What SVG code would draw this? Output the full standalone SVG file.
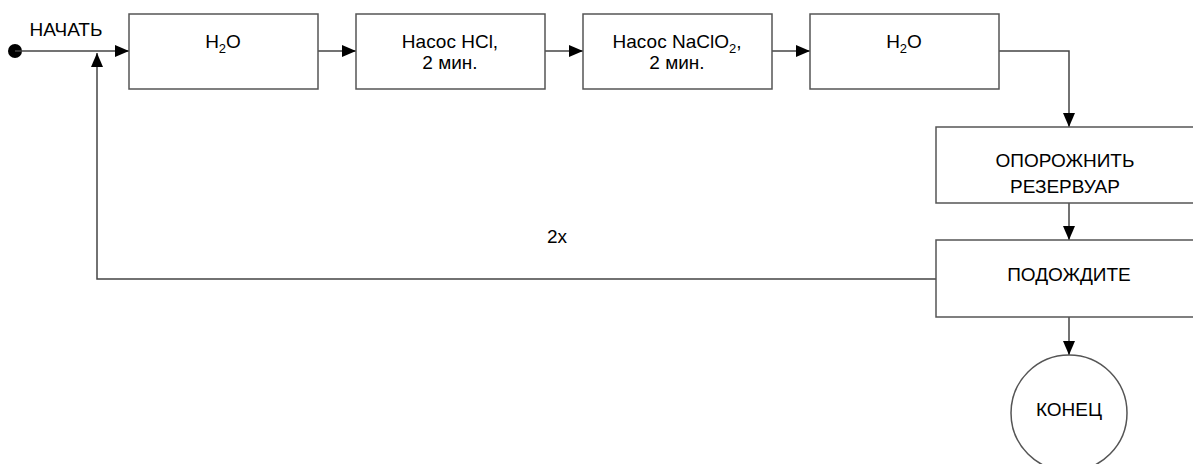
<svg xmlns="http://www.w3.org/2000/svg" width="1193" height="464" viewBox="0 0 1193 464">
<style>
.box{fill:#fff;stroke:#555;stroke-width:1.5}
.t{font-family:"Liberation Sans",Arial,sans-serif;font-size:19px;fill:#000;text-anchor:middle}
.s{font-size:13px}
.c{fill:none;stroke:#444;stroke-width:1.5}
</style>
<defs>
<marker id="ah" viewBox="0 0 14 12" refX="14" refY="6" markerWidth="14" markerHeight="12" markerUnits="userSpaceOnUse" orient="auto">
<path d="M0,0 L14,6 L0,12 Z" fill="#000"/>
</marker>
</defs>
<rect width="1193" height="464" fill="#fff"/>
<g id="connectors">
<circle cx="15" cy="51" r="7" fill="#000"/>
<line class="c" x1="15" y1="51" x2="129" y2="51" marker-end="url(#ah)"/>
<line class="c" x1="318" y1="51" x2="356" y2="51" marker-end="url(#ah)"/>
<line class="c" x1="545" y1="51" x2="583" y2="51" marker-end="url(#ah)"/>
<line class="c" x1="772" y1="51" x2="810" y2="51" marker-end="url(#ah)"/>
<polyline class="c" points="999,51 1069,51 1069,127" marker-end="url(#ah)"/>
<line class="c" x1="1069" y1="203" x2="1069" y2="240" marker-end="url(#ah)"/>
<line class="c" x1="1069" y1="317" x2="1069" y2="355" marker-end="url(#ah)"/>
<polyline class="c" points="936,279 97,279 97,53" marker-end="url(#ah)"/>
<text class="t" x="557" y="243">2x</text>
</g>
<g id="start"><text class="t" x="66" y="36">НАЧАТЬ</text></g>
<g id="n1"><rect class="box" x="129" y="14" width="189" height="75"/><text class="t" x="223" y="48">H<tspan class="s" dy="5">2</tspan><tspan dy="-5">O</tspan></text></g>
<g id="n2"><rect class="box" x="356" y="14" width="189" height="75"/><text class="t" x="450" y="48">Насос HCl,</text><text class="t" x="450" y="69">2 мин.</text></g>
<g id="n3"><rect class="box" x="583" y="14" width="189" height="75"/><text class="t" x="677" y="48">Насос NaClO<tspan class="s" dy="5">2</tspan><tspan dy="-5">,</tspan></text><text class="t" x="677" y="69">2 мин.</text></g>
<g id="n4"><rect class="box" x="810" y="14" width="189" height="75"/><text class="t" x="904" y="48">H<tspan class="s" dy="5">2</tspan><tspan dy="-5">O</tspan></text></g>
<g id="n5"><rect class="box" x="936" y="127" width="266" height="76"/><text class="t" x="1065" y="167">ОПОРОЖНИТЬ</text><text class="t" x="1065" y="193">РЕЗЕРВУАР</text></g>
<g id="n6"><rect class="box" x="936" y="240" width="266" height="77"/><text class="t" x="1069" y="281">ПОДОЖДИТЕ</text></g>
<g id="end"><circle class="box" cx="1069" cy="413" r="58"/><text class="t" x="1069" y="416">КОНЕЦ</text></g>
</svg>
